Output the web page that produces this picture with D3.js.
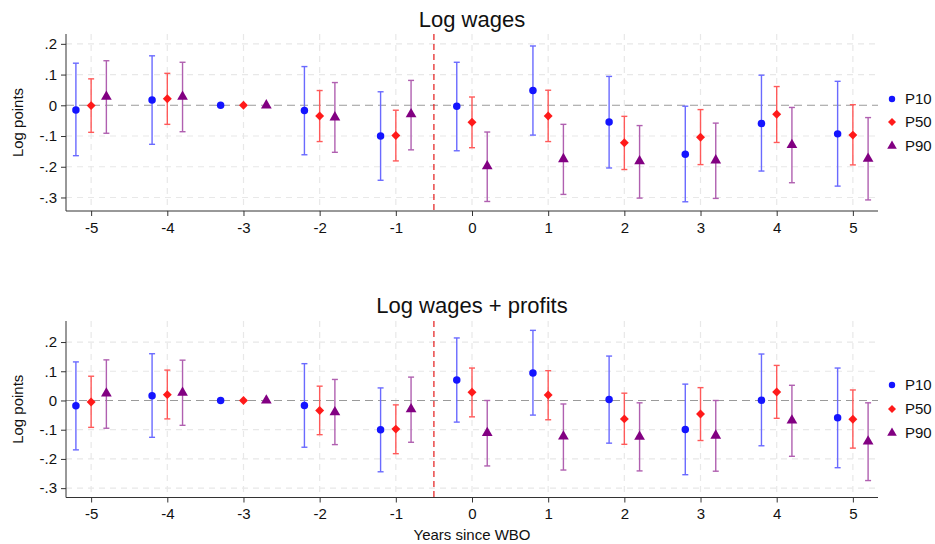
<!DOCTYPE html>
<html>
<head>
<meta charset="utf-8">
<script src="https://cdn.jsdelivr.net/npm/d3@7"></script>
<style>
  html, body { margin: 0; padding: 0; background: #fff; }
  svg { display: block; font-family: "Liberation Sans", Arial, Helvetica, sans-serif; }
</style>
</head>
<body>
<svg id="chart" width="935" height="544"></svg>
<script>
// Event years relative to the WBO
const years = [-5, -4, -3, -2, -1, 0, 1, 2, 3, 4, 5];
const seriesNames = ["P10", "P50", "P90"];
const yTicks = [0.2, 0.1, 0, -0.1, -0.2, -0.3];
const yTickLabels = [".2", ".1", "0", "-.1", "-.2", "-.3"];

// Panel 1: Log wages — point estimates and 95% CI bounds
const wagesP10    = [-0.015, 0.017, 0, -0.017, -0.100, -0.003, 0.048, -0.054, -0.159, -0.059, -0.093];
const wagesP10Lo  = [-0.164, -0.127, 0, -0.161, -0.244, -0.148, -0.097, -0.204, -0.314, -0.214, -0.263];
const wagesP10Hi  = [0.137, 0.161, 0, 0.126, 0.044, 0.140, 0.193, 0.094, -0.003, 0.098, 0.078];
const wagesP50    = [-0.001, 0.021, 0, -0.035, -0.098, -0.055, -0.035, -0.122, -0.104, -0.029, -0.097];
const wagesP50Lo  = [-0.088, -0.062, 0, -0.118, -0.181, -0.138, -0.118, -0.209, -0.193, -0.121, -0.194];
const wagesP50Hi  = [0.086, 0.104, 0, 0.048, -0.016, 0.027, 0.049, -0.036, -0.014, 0.061, 0.002];
const wagesP90    = [0.028, 0.028, 0, -0.039, -0.029, -0.198, -0.175, -0.182, -0.179, -0.129, -0.174];
const wagesP90Lo  = [-0.091, -0.086, 0, -0.153, -0.145, -0.313, -0.290, -0.302, -0.303, -0.252, -0.308];
const wagesP90Hi  = [0.145, 0.140, 0, 0.074, 0.081, -0.087, -0.062, -0.066, -0.058, -0.007, -0.040];

// Panel 2: Log wages + profits
const profP10     = [-0.018, 0.016, 0, -0.017, -0.100, 0.070, 0.094, 0.003, -0.099, 0.001, -0.059];
const profP10Lo   = [-0.169, -0.126, 0, -0.160, -0.244, -0.074, -0.050, -0.146, -0.254, -0.155, -0.230];
const profP10Hi   = [0.132, 0.160, 0, 0.126, 0.043, 0.214, 0.240, 0.152, 0.056, 0.159, 0.111];
const profP50     = [-0.005, 0.020, 0, -0.034, -0.098, 0.028, 0.019, -0.063, -0.046, 0.029, -0.064];
const profP50Lo   = [-0.092, -0.063, 0, -0.117, -0.182, -0.056, -0.066, -0.150, -0.137, -0.061, -0.163];
const profP50Hi   = [0.083, 0.104, 0, 0.049, -0.015, 0.111, 0.102, 0.025, 0.044, 0.120, 0.036];
const profP90     = [0.024, 0.027, 0, -0.040, -0.030, -0.111, -0.123, -0.124, -0.120, -0.068, -0.140];
const profP90Lo   = [-0.095, -0.085, 0, -0.151, -0.143, -0.224, -0.238, -0.241, -0.242, -0.191, -0.274];
const profP90Hi   = [0.139, 0.138, 0, 0.072, 0.080, 0.000, -0.012, -0.008, 0.000, 0.052, -0.008];

const panelTitles = ["Log wages", "Log wages + profits"];
const xTitle = "Years since WBO";
const yTitle = "Log points";

const colors = { P10: "#1414ff", P50: "#ff1a1a", P90: "#820082" };
const ciColors = { P10: "#6a6aff", P50: "#ff5a5a", P90: "#b060b0" };

function buildPanel(p10, p10lo, p10hi, p50, p50lo, p50hi, p90, p90lo, p90hi) {
  const cols = { P10: [p10, p10lo, p10hi], P50: [p50, p50lo, p50hi], P90: [p90, p90lo, p90hi] };
  const rows = [];
  seriesNames.forEach((s, si) => {
    years.forEach((yr, i) => {
      // the omitted base year is spread a bit wider than the others
      const off = yr === -3 ? [-0.3, 0, 0.3][si] : [-0.2, 0, 0.2][si];
      rows.push({ series: s, year: yr, x: yr + off, est: cols[s][0][i], lo: cols[s][1][i], hi: cols[s][2][i], isBase: yr === -3 });
    });
  });
  return rows;
}

const panels = [
  { title: panelTitles[0], top: 34, bottom: 211, domain: [-0.344, 0.232], titleY: 27,
    rows: buildPanel(wagesP10, wagesP10Lo, wagesP10Hi, wagesP50, wagesP50Lo, wagesP50Hi, wagesP90, wagesP90Lo, wagesP90Hi) },
  { title: panelTitles[1], top: 321, bottom: 497.5, domain: [-0.332, 0.272], titleY: 313,
    rows: buildPanel(profP10, profP10Lo, profP10Hi, profP50, profP50Lo, profP50Hi, profP90, profP90Lo, profP90Hi) }
];

const left = 66, right = 878;
const svg = d3.select("#chart");
const x = d3.scaleLinear().domain([-5.33, 5.33]).range([left, right]);

// P50 uses a square turned 45 degrees (a broad diamond)
const symbolOf = { P10: d3.symbolCircle, P50: d3.symbolSquare, P90: d3.symbolTriangle };
const sizeOf = { P10: 44, P50: 40, P90: 50 };
const rotOf = { P10: 0, P50: 45, P90: 0 };

panels.forEach((pn, pi) => {
  const y = d3.scaleLinear().domain(pn.domain).range([pn.bottom, pn.top]);
  const g = svg.append("g");

  // grid
  g.selectAll("line.hgrid").data(yTicks.filter(t => t !== 0)).join("line")
    .attr("x1", left).attr("x2", right)
    .attr("y1", d => y(d)).attr("y2", d => y(d))
    .attr("stroke", "#e8e8e8").attr("stroke-width", 1.2).attr("stroke-dasharray", "6,5");
  g.selectAll("line.vgrid").data(years).join("line")
    .attr("x1", d => x(d)).attr("x2", d => x(d))
    .attr("y1", pn.top).attr("y2", pn.bottom)
    .attr("stroke", "#e8e8e8").attr("stroke-width", 1.2).attr("stroke-dasharray", "6,5");

  // zero reference line
  g.append("line")
    .attr("x1", left).attr("x2", right).attr("y1", y(0)).attr("y2", y(0))
    .attr("stroke", "#9a9a9a").attr("stroke-width", 1.1).attr("stroke-dasharray", "8,5");

  // event line between -1 and 0
  g.append("line")
    .attr("x1", x(-0.5)).attr("x2", x(-0.5)).attr("y1", pn.top).attr("y2", pn.bottom)
    .attr("stroke", "#e41a1a").attr("stroke-width", 1.2).attr("stroke-dasharray", "6,4");

  // axes
  const yAxis = d3.axisLeft(y).tickValues(yTicks).tickFormat((d, i) => yTickLabels[i]).tickSize(5).tickPadding(4);
  const ya = g.append("g").attr("transform", `translate(${left},0)`).call(yAxis);
  ya.select(".domain").attr("d", `M0,${pn.top}V${pn.bottom}`).attr("stroke", "#333");
  ya.selectAll(".tick line").attr("stroke", "#333");
  ya.selectAll("text").attr("font-size", 15).attr("fill", "#111");

  const xAxis = d3.axisBottom(x).tickValues(years).tickFormat(d => String(d)).tickSize(5).tickPadding(6);
  const xa = g.append("g").attr("transform", `translate(0,${pn.bottom})`).call(xAxis);
  xa.select(".domain").attr("d", `M${left},0H${right}`).attr("stroke", "#333");
  xa.selectAll(".tick line").attr("stroke", "#333");
  xa.selectAll("text").attr("font-size", 15).attr("fill", "#111");

  // titles
  g.append("text").attr("x", (left + right) / 2).attr("y", pn.titleY)
    .attr("text-anchor", "middle").attr("font-size", 22).attr("fill", "#111").text(pn.title);
  g.append("text")
    .attr("transform", `translate(23,${(pn.top + pn.bottom) / 2}) rotate(-90)`)
    .attr("text-anchor", "middle").attr("font-size", 15).attr("fill", "#111").text(yTitle);

  // confidence intervals
  const ci = pn.rows.filter(r => !r.isBase);
  const cap = 3;
  const bars = g.selectAll("g.ci").data(ci).join("g").attr("stroke", d => ciColors[d.series]).attr("stroke-width", 1.4);
  bars.append("line").attr("x1", d => x(d.x)).attr("x2", d => x(d.x)).attr("y1", d => y(d.lo)).attr("y2", d => y(d.hi));
  bars.append("line").attr("x1", d => x(d.x) - cap).attr("x2", d => x(d.x) + cap).attr("y1", d => y(d.lo)).attr("y2", d => y(d.lo));
  bars.append("line").attr("x1", d => x(d.x) - cap).attr("x2", d => x(d.x) + cap).attr("y1", d => y(d.hi)).attr("y2", d => y(d.hi));

  // point estimates
  g.selectAll("path.pt").data(pn.rows).join("path")
    .attr("d", d => d3.symbol().type(symbolOf[d.series]).size(sizeOf[d.series])())
    .attr("transform", d => `translate(${x(d.x)},${y(d.est)}) rotate(${rotOf[d.series]})`)
    .attr("fill", d => colors[d.series]);

  // legend
  const legY = pi === 0 ? [99, 122, 146] : [385, 409, 433];
  const leg = g.selectAll("g.leg").data(seriesNames).join("g")
    .attr("transform", (d, i) => `translate(892,${legY[i]})`);
  leg.append("path")
    .attr("d", d => d3.symbol().type(symbolOf[d]).size(d === "P90" ? 40 : 32)())
    .attr("transform", d => `rotate(${rotOf[d]})`)
    .attr("fill", d => colors[d]);
  leg.append("text").attr("x", 13).attr("y", 5).attr("font-size", 15).attr("fill", "#111").text(d => d);
});

svg.append("text").attr("x", (left + right) / 2).attr("y", 540)
  .attr("text-anchor", "middle").attr("font-size", 15).attr("fill", "#111").text(xTitle);
</script>
</body>
</html>
